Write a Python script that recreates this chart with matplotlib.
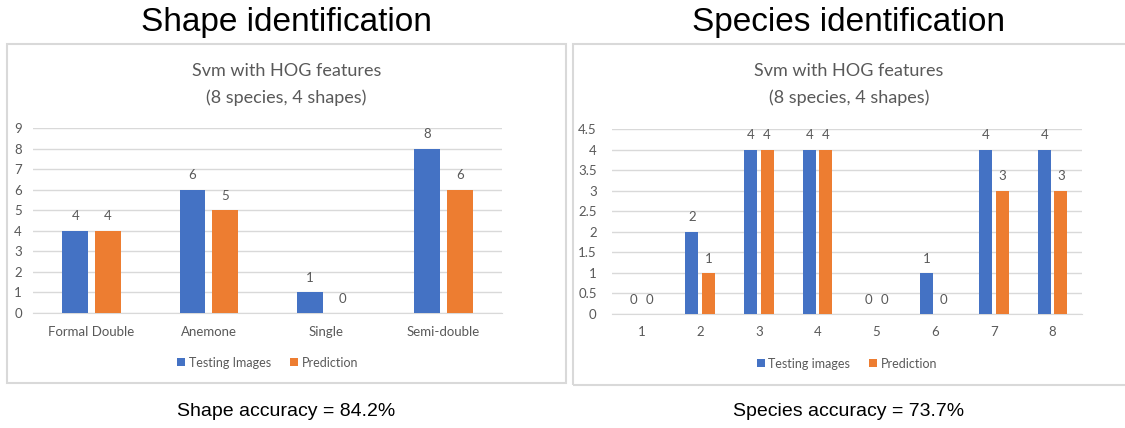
import numpy as np
import matplotlib.pyplot as plt
from matplotlib.patches import Rectangle

# Datos de los dos gráficos
shape_labels = ['Formal Double', 'Anemone', 'Single', 'Semi-double']
shape_testing = [4, 6, 1, 8]
shape_prediction = [4, 5, 0, 6]

species_labels = ['1', '2', '3', '4', '5', '6', '7', '8']
species_testing = [0, 2, 4, 4, 0, 1, 4, 4]
species_prediction = [0, 1, 4, 4, 0, 0, 3, 3]

W, H = 1125, 428
BLUE = '#4472C4'
ORANGE = '#ED7D31'
GRAY = '#595959'
GRID = '#D9D9D9'
INNER_FONT = ['Lato', 'DejaVu Sans']

fig = plt.figure(figsize=(W / 100, H / 100), dpi=100)


def px_rect(x0, y0, x1, y1):
    # convierte píxeles (origen arriba-izquierda) a fracciones de la figura
    return [x0 / W, 1 - y1 / H, (x1 - x0) / W, (y1 - y0) / H]


def draw_panel(box, axrect, title, caption, labels, testing, prediction,
               ymax, ystep, legend_names, ypad):
    bx0, by0, bx1, by1 = box
    fig.patches.append(Rectangle((bx0 / W, 1 - by1 / H), (bx1 - bx0) / W,
                                 (by1 - by0) / H, transform=fig.transFigure,
                                 fill=False, edgecolor='#D9D9D9', lw=1.5))
    cx = (bx0 + min(bx1, W)) / 2
    fig.text(cx / W, 1 - 22 / H, title, ha='center', va='center',
             fontsize=24, family='Liberation Sans', color='black')
    fig.text(cx / W, 1 - 411 / H, caption, ha='center', va='center',
             fontsize=14, family='Liberation Sans', color='black')
    fig.text(cx / W, 1 - 71 / H, 'Svm with HOG features', ha='center',
             va='center', fontsize=13, family=INNER_FONT, color=GRAY)
    fig.text(cx / W, 1 - 98 / H, '(8 species, 4 shapes)', ha='center',
             va='center', fontsize=13, family=INNER_FONT, color=GRAY)

    ax = fig.add_axes(px_rect(*axrect))
    x = np.arange(len(labels))
    bw = 0.22
    off = 0.14
    b1 = ax.bar(x - off, testing, bw, color=BLUE, label=legend_names[0], zorder=3)
    b2 = ax.bar(x + off, prediction, bw, color=ORANGE, label=legend_names[1], zorder=3)
    for bars in (b1, b2):
        ax.bar_label(bars, labels=[str(int(v.get_height())) for v in bars],
                     padding=6, fontsize=9.5, color=GRAY, family=INNER_FONT)

    ax.set_xlim(-0.5, len(labels) - 0.5)
    ax.set_ylim(0, ymax)
    ticks = np.arange(0, ymax + ystep / 2, ystep)
    ax.set_yticks(ticks)
    ax.set_yticklabels([f'{t:g}' for t in ticks])
    ax.set_xticks(x)
    ax.set_xticklabels(labels)
    for lab in ax.get_xticklabels() + ax.get_yticklabels():
        lab.set_family(INNER_FONT)
        lab.set_fontsize(9.5)
        lab.set_color(GRAY)
    ax.tick_params(length=0)
    ax.tick_params(axis='x', pad=9)
    ax.tick_params(axis='y', pad=ypad)
    ax.grid(axis='y', color=GRID, lw=1, zorder=0)
    for side in ('top', 'right', 'left'):
        ax.spines[side].set_visible(False)
    ax.spines['bottom'].set_color(GRID)

    leg = ax.legend(loc='upper center', bbox_to_anchor=(0.5, -0.175), ncol=2,
                    frameon=False, handlelength=0.65, handleheight=0.65,
                    handletextpad=0.3, columnspacing=1.5,
                    prop={'family': INNER_FONT, 'size': 9})
    for t in leg.get_texts():
        t.set_color(GRAY)
    return ax


draw_panel((7, 44, 566, 383), (33, 128, 502, 313),
           'Shape identification', 'Shape accuracy = 84.2%',
           shape_labels, shape_testing, shape_prediction,
           9, 1, ('Testing Images', 'Prediction'), 8)

draw_panel((573, 44, 1128, 385), (612, 129, 1082, 314),
           'Species identification', 'Species accuracy = 73.7%',
           species_labels, species_testing, species_prediction,
           4.5, 0.5, ('Testing images', 'Prediction'), 11)

fig.savefig('out.png', dpi=100)
